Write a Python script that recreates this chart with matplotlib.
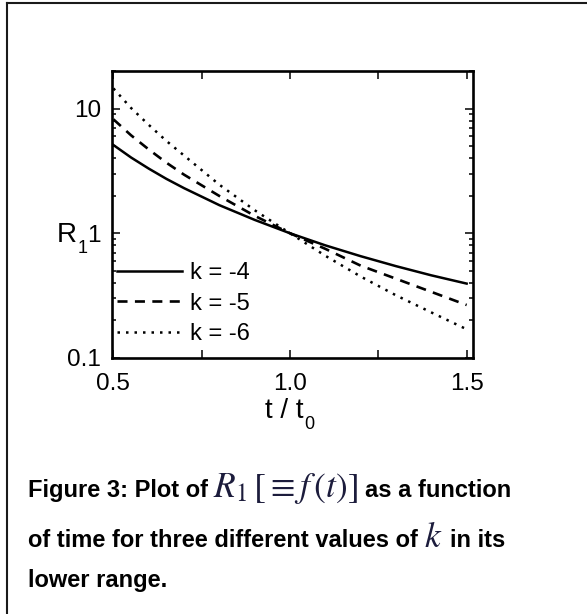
import matplotlib
matplotlib.use("Agg")
import matplotlib.pyplot as plt
from matplotlib.ticker import FixedLocator, FuncFormatter, LogLocator, NullFormatter
from matplotlib.lines import Line2D

# R1 values versus reduced time t/t0 for three values of k
t_ratio = [0.5, 0.55, 0.6, 0.65, 0.7, 0.8, 0.9, 1.0, 1.1, 1.2, 1.3, 1.4, 1.5]
r1_k4 = [5.1, 4.05, 3.3, 2.73, 2.3, 1.68, 1.28, 1.0, 0.80, 0.655, 0.545, 0.46, 0.395]
r1_k5 = [8.2, 6.1, 4.7, 3.68, 2.95, 1.99, 1.38, 1.0, 0.75, 0.55, 0.432, 0.339, 0.266]
r1_k6 = [14.5, 10.1, 7.4, 5.5, 4.2, 2.45, 1.53, 1.0, 0.66, 0.45, 0.318, 0.232, 0.17]
series_labels = ["k = -4", "k = -5", "k = -6"]

x_tick_values = [0.5, 0.75, 1.0, 1.25, 1.5]
y_tick_values = [0.1, 1, 10]
y_tick_labels = ["0.1", "1", "10"]

plt.rcParams["font.family"] = ["Liberation Sans", "DejaVu Sans"]

W, H = 587, 614
fig = plt.figure(figsize=(W / 100, H / 100), dpi=100)
fig.patch.set_facecolor("white")

ax = fig.add_axes([112 / W, 1 - 358 / H, 361 / W, 287 / H])

styles = [
    dict(color="black", lw=1.8, linestyle="-"),
    dict(color="black", lw=1.9, linestyle=(0, (3.8, 2.8))),
    dict(color="black", lw=1.8, linestyle=(0, (1.0, 2.4))),
]
for values, label, st in zip([r1_k4, r1_k5, r1_k6], series_labels, styles):
    ax.plot(t_ratio, values, label=label, **st)

ax.set_yscale("log")
ax.set_xlim(0.496, 1.518)
ax.set_ylim(0.1, 20)

ax.xaxis.set_major_locator(FixedLocator(x_tick_values))
ax.xaxis.set_major_formatter(
    FuncFormatter(lambda v, p: f"{v:.1f}" if abs(v * 2 - round(v * 2)) < 1e-6 else "")
)
ytick_text = {round(v, 3): s for v, s in zip(y_tick_values, y_tick_labels)}
ax.yaxis.set_major_locator(FixedLocator(y_tick_values))
ax.yaxis.set_major_formatter(FuncFormatter(lambda v, p: ytick_text.get(round(v, 3), "")))
ax.yaxis.set_minor_locator(LogLocator(base=10, subs=range(2, 10)))
ax.yaxis.set_minor_formatter(NullFormatter())

ax.tick_params(which="both", direction="in", top=True, right=True)
ax.tick_params(which="major", length=5.5, width=1.1, labelsize=17.5)
ax.tick_params(axis="x", which="major", pad=11)
ax.tick_params(axis="y", which="major", pad=8)
ax.tick_params(which="minor", length=3.2, width=1.1)
for sp in ax.spines.values():
    sp.set_linewidth(1.9)

ax.legend(loc="lower left", bbox_to_anchor=(0.013, 0.045), frameon=False,
          fontsize=17, handlelength=2.75, handletextpad=0.34,
          labelspacing=0.36, borderpad=0, borderaxespad=0)

renderer = fig.canvas.get_renderer()


def write_line(pieces, x0, y_base):
    """Place text pieces left to right; each piece may carry its own baseline shift."""
    x = x0
    for txt, kw, gap, drop in pieces:
        obj = fig.text(x / W, 1 - (y_base + drop) / H, txt, ha="left", va="baseline", **kw)
        bb = obj.get_window_extent(renderer)
        x = bb.x1 + gap


# axis titles with lowered subscripts
label_main = dict(fontsize=20, color="black")
label_sub = dict(fontsize=13, color="black")
write_line([("R", label_main, 1, 0), ("1", label_sub, 0, 11)], 57, 242)
write_line([("t / t", label_main, 1, 0), ("0", label_sub, 0, 11)], 265, 418)

# caption under the plot
body = dict(fontsize=17, fontweight="bold", color="black")
math = dict(fontsize=25.5, math_fontfamily="stix", color="#1c1c3c")
write_line([("Figure 3: Plot of", body, 5, 0),
            (r"$R_1\,[\equiv f\,(t)]$", math, 7, 0),
            ("as a function", body, 0, 0)], 28, 497)
write_line([("of time for three different values of", body, 6, 0),
            (r"$k$", math, 8, 0),
            ("in its", body, 0, 0)], 28, 547)
write_line([("lower range.", body, 0, 0)], 28, 587)

# frame edges around the figure panel
fig.add_artist(Line2D([7 / W, 7 / W], [0, 1 - 3 / H], transform=fig.transFigure,
                      color="#1a1a1a", lw=1.5))
fig.add_artist(Line2D([7 / W, 1], [1 - 3 / H, 1 - 3 / H], transform=fig.transFigure,
                      color="#1a1a1a", lw=1.5))

fig.savefig("out.png", dpi=100)
